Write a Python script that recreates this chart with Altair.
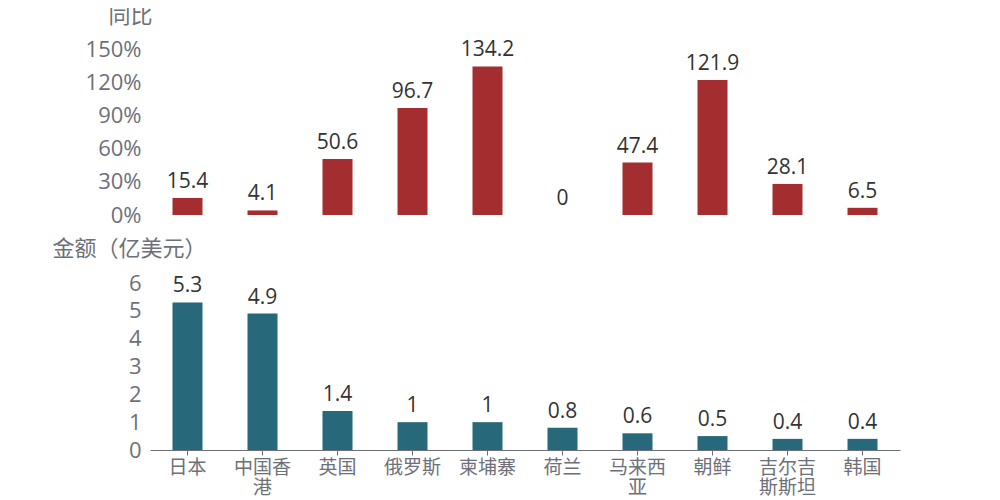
import altair as alt
import pandas as pd

countries = ["日本", "中国香港", "英国", "俄罗斯", "柬埔寨", "荷兰", "马来西亚", "朝鲜", "吉尔吉斯斯坦", "韩国"]
yoy = [15.4, 4.1, 50.6, 96.7, 134.2, 0, 47.4, 121.9, 28.1, 6.5]
amount = [5.3, 4.9, 1.4, 1, 1, 0.8, 0.6, 0.5, 0.4, 0.4]
yoy_ticks = [0, 30, 60, 90, 120, 150]
amount_ticks = [0, 1, 2, 3, 4, 5, 6]

df = pd.DataFrame({
    "country": countries,
    "yoy": yoy,
    "amount": amount,
    "yoy_label": [format(v, "g") for v in yoy],
    "amount_label": [format(v, "g") for v in amount],
})

FONT = "Open Sans, Noto Sans CJK SC"
RED = "#a42d2f"
TEAL = "#27697a"
GRAY = "#6e7079"

xscale = alt.Scale(paddingInner=0.6, paddingOuter=0.3)

top_y = alt.Y(
    "yoy:Q",
    scale=alt.Scale(domain=[0, 150], nice=False),
    axis=alt.Axis(
        values=yoy_ticks,
        labelExpr="datum.value + '%'",
        labelOverlap=False,
        labelSeparation=0,
        labelBound=False,
        title="同比",
        titleAngle=0,
        titleAlign="left",
        titleBaseline="alphabetic",
        titleX=-42,
        titleY=-27,
        grid=False,
        domain=False,
        ticks=False,
        labelPadding=9,
    ),
)
top_base = alt.Chart(df).encode(
    x=alt.X("country:N", sort=countries, scale=xscale, axis=None),
    y=top_y,
)
top_bars = top_base.mark_bar(color=RED)
top_text = top_base.mark_text(dy=-10, baseline="alphabetic", fontSize=21, color="#333333", font=FONT).encode(
    text="yoy_label:N"
)
top = (top_bars + top_text).properties(width=750, height=166)

bot_y = alt.Y(
    "amount:Q",
    scale=alt.Scale(domain=[0, 6], nice=False),
    axis=alt.Axis(
        values=amount_ticks,
        labelOverlap=False,
        labelSeparation=0,
        labelBound=False,
        title="金额（亿美元）",
        titleAngle=0,
        titleAlign="left",
        titleBaseline="alphabetic",
        titleX=-98,
        titleY=-28,
        grid=False,
        domain=False,
        ticks=False,
        labelPadding=9,
    ),
)
bot_base = alt.Chart(df).encode(
    x=alt.X(
        "country:N",
        sort=countries,
        scale=xscale,
        axis=alt.Axis(
            title=None,
            labelAngle=0,
            labelExpr="length(datum.label) > 3 ? [substring(datum.label, 0, 3), substring(datum.label, 3)] : datum.label",
            labelLineHeight=20,
            labelPadding=3,
            labelFontSize=19,
            labelOverlap=False,
            domainColor=GRAY,
            tickColor=GRAY,
            tickSize=5,
            grid=False,
        ),
    ),
    y=bot_y,
)
bot_bars = bot_base.mark_bar(color=TEAL)
bot_text = bot_base.mark_text(dy=-10, baseline="alphabetic", fontSize=21, color="#333333", font=FONT).encode(
    text="amount_label:N"
)
bottom = (bot_bars + bot_text).properties(width=750, height=167)

chart = alt.vconcat(top, bottom, spacing=68, bounds="flush").properties(
    padding={"left": 44, "top": -4, "right": 5, "bottom": 5}
).configure_view(stroke=None).configure_axis(
    labelFont=FONT,
    titleFont=FONT,
    labelFontSize=22,
    titleFontSize=22,
    labelColor=GRAY,
    titleColor=GRAY,
    titleFontWeight="normal",
    labelOverlap=False,
)

chart.save("out.html", embed_options={"renderer": "svg", "actions": False})
